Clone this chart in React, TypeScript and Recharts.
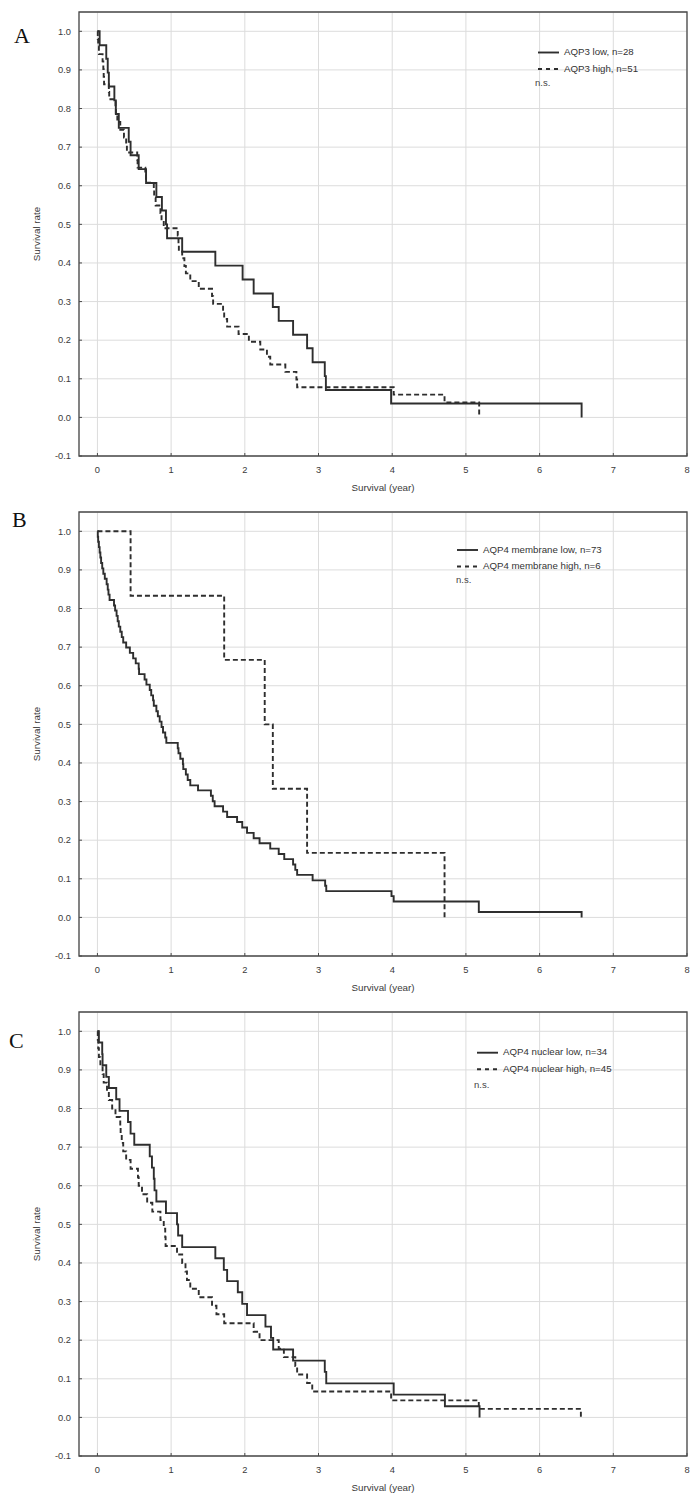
import React from "react";
import { LineChart, Line, XAxis, YAxis, CartesianGrid, ReferenceArea } from "recharts";

type Pt = { t: number; s: number };
const pts = (rows: number[][]): Pt[] => rows.map(([t, s]) => ({ t, s }));

const xTicks = [0, 1, 2, 3, 4, 5, 6, 7, 8];
const yTicks = [-0.1, 0, 0.1, 0.2, 0.3, 0.4, 0.5, 0.6, 0.7, 0.8, 0.9, 1.0];
const xDomain: [number, number] = [-0.25, 8];
const yDomain: [number, number] = [-0.1, 1.05];

// A: AQP3
const aqp3Low = pts([
  [0, 1], [0.03, 0.964], [0.12, 0.929], [0.14, 0.893], [0.155, 0.857], [0.23, 0.821],
  [0.25, 0.786], [0.29, 0.75], [0.425, 0.714], [0.45, 0.679], [0.56, 0.643], [0.66, 0.607],
  [0.8, 0.571], [0.875, 0.536], [0.93, 0.5], [0.945, 0.464], [1.15, 0.429], [1.6, 0.393],
  [1.97, 0.357], [2.12, 0.321], [2.38, 0.286], [2.46, 0.25], [2.655, 0.214], [2.845, 0.179],
  [2.92, 0.143], [3.085, 0.107], [3.1, 0.071], [3.985, 0.036], [6.57, 0],
]);
const aqp3High = pts([
  [0, 1], [0.005, 0.98], [0.01, 0.961], [0.02, 0.941], [0.07, 0.922], [0.08, 0.902],
  [0.085, 0.882], [0.09, 0.863], [0.155, 0.843], [0.16, 0.824], [0.245, 0.804], [0.25, 0.784],
  [0.27, 0.765], [0.31, 0.745], [0.36, 0.725], [0.39, 0.706], [0.4, 0.686], [0.54, 0.667],
  [0.545, 0.647], [0.65, 0.627], [0.66, 0.608], [0.765, 0.588], [0.77, 0.569], [0.79, 0.549],
  [0.855, 0.529], [0.87, 0.51], [0.9, 0.49], [1.09, 0.471], [1.1, 0.451], [1.105, 0.431],
  [1.15, 0.412], [1.18, 0.392], [1.2, 0.373], [1.26, 0.353], [1.375, 0.333], [1.555, 0.314],
  [1.57, 0.294], [1.705, 0.275], [1.72, 0.255], [1.76, 0.235], [1.915, 0.216], [2.055, 0.196],
  [2.21, 0.176], [2.3, 0.157], [2.345, 0.137], [2.55, 0.118], [2.7, 0.098], [2.71, 0.078],
  [4.02, 0.059], [4.71, 0.039], [5.18, 0],
]);

// B: AQP4 membrane
const memLow = pts([
  [0, 1], [0.005, 0.986], [0.01, 0.973], [0.02, 0.959], [0.03, 0.945], [0.04, 0.932],
  [0.05, 0.918], [0.065, 0.904], [0.08, 0.89], [0.1, 0.877], [0.125, 0.863], [0.14, 0.849],
  [0.15, 0.836], [0.165, 0.822], [0.225, 0.808], [0.24, 0.795], [0.26, 0.781], [0.275, 0.767],
  [0.29, 0.753], [0.31, 0.74], [0.33, 0.726], [0.35, 0.712], [0.39, 0.699], [0.44, 0.685],
  [0.485, 0.671], [0.52, 0.658], [0.56, 0.644], [0.565, 0.63], [0.64, 0.616], [0.665, 0.603],
  [0.71, 0.589], [0.73, 0.575], [0.755, 0.562], [0.765, 0.548], [0.8, 0.534], [0.82, 0.521],
  [0.845, 0.507], [0.87, 0.493], [0.89, 0.479], [0.92, 0.466], [0.935, 0.452], [1.09, 0.438],
  [1.1, 0.425], [1.125, 0.411], [1.16, 0.397], [1.165, 0.384], [1.2, 0.37], [1.225, 0.356],
  [1.26, 0.342], [1.365, 0.329], [1.54, 0.315], [1.565, 0.301], [1.59, 0.288], [1.705, 0.274],
  [1.76, 0.26], [1.895, 0.247], [1.965, 0.233], [2.03, 0.219], [2.12, 0.205], [2.2, 0.192],
  [2.345, 0.178], [2.46, 0.164], [2.535, 0.151], [2.655, 0.137], [2.685, 0.123], [2.71, 0.11],
  [2.92, 0.096], [3.09, 0.082], [3.105, 0.068], [3.99, 0.055], [4.02, 0.041], [5.175, 0.014],
  [6.57, 0],
]);
const memHigh = pts([
  [0, 1], [0.45, 0.833], [1.72, 0.667], [2.27, 0.5], [2.38, 0.333], [2.845, 0.167], [4.71, 0],
]);

// C: AQP4 nuclear
const nucLow = pts([
  [0, 1], [0.02, 0.971], [0.065, 0.941], [0.07, 0.912], [0.12, 0.882], [0.155, 0.853],
  [0.255, 0.824], [0.3, 0.794], [0.415, 0.765], [0.45, 0.735], [0.5, 0.706], [0.71, 0.676],
  [0.74, 0.647], [0.765, 0.618], [0.775, 0.588], [0.8, 0.559], [0.93, 0.529], [1.08, 0.5],
  [1.095, 0.471], [1.15, 0.441], [1.6, 0.412], [1.715, 0.382], [1.76, 0.353], [1.905, 0.324],
  [1.965, 0.294], [2.03, 0.265], [2.28, 0.235], [2.355, 0.206], [2.385, 0.176], [2.655, 0.147],
  [3.085, 0.118], [3.105, 0.088], [4.02, 0.059], [4.715, 0.029], [5.185, 0],
]);
const nucHigh = pts([
  [0, 1], [0.005, 0.978], [0.01, 0.956], [0.02, 0.933], [0.04, 0.911], [0.07, 0.889],
  [0.085, 0.867], [0.13, 0.844], [0.155, 0.822], [0.2, 0.8], [0.245, 0.778], [0.31, 0.756],
  [0.315, 0.733], [0.33, 0.711], [0.35, 0.689], [0.39, 0.667], [0.45, 0.644], [0.55, 0.622],
  [0.56, 0.6], [0.605, 0.578], [0.675, 0.556], [0.745, 0.533], [0.855, 0.511], [0.9, 0.489],
  [0.92, 0.467], [0.925, 0.444], [1.08, 0.422], [1.15, 0.4], [1.195, 0.378], [1.215, 0.356],
  [1.26, 0.333], [1.375, 0.311], [1.555, 0.289], [1.615, 0.267], [1.72, 0.244], [2.12, 0.222],
  [2.2, 0.2], [2.46, 0.178], [2.53, 0.156], [2.685, 0.133], [2.71, 0.111], [2.845, 0.089],
  [2.915, 0.067], [3.985, 0.044], [5.175, 0.022], [6.56, 0],
]);

const panels = [
  {
    letter: "A", letterX: 14, letterY: 43,
    low: aqp3Low, high: aqp3High,
    lowLabel: "AQP3 low, n=28", highLabel: "AQP3 high, n=51",
    legX: 538, legY: 52.5, nsX: 535, nsY: 82,
  },
  {
    letter: "B", letterX: 12, letterY: 27,
    low: memLow, high: memHigh,
    lowLabel: "AQP4 membrane low, n=73", highLabel: "AQP4 membrane high, n=6",
    legX: 457, legY: 50, nsX: 456, nsY: 79,
  },
  {
    letter: "C", letterX: 9, letterY: 48,
    low: nucLow, high: nucHigh,
    lowLabel: "AQP4 nuclear low, n=34", highLabel: "AQP4 nuclear high, n=45",
    legX: 477, legY: 52.7, nsX: 474, nsY: 84,
  },
];

const FONT = "'Liberation Sans', Arial, sans-serif";
const INK = "#2e2e2e";
const FRAME = "#4a4a4a";
const tickStyle = { fontSize: 9.3, fill: "#3a3a3a", fontFamily: FONT };

function Panel({ p }: { p: (typeof panels)[number] }) {
  return (
    <div style={{ position: "relative", width: 700, height: 500 }}>
      <LineChart width={700} height={500} margin={{ top: 12, right: 13, bottom: 0, left: 0 }}>
        <CartesianGrid stroke="#dcdcdc" strokeWidth={1} />
        <XAxis
          type="number" dataKey="t" domain={xDomain} ticks={xTicks} allowDataOverflow
          height={44} axisLine={false} tickLine={{ stroke: FRAME }} tick={tickStyle}
          tickSize={-3} tickMargin={13}
        />
        <XAxis
          xAxisId="top" orientation="top" type="number" domain={xDomain} ticks={xTicks}
          allowDataOverflow height={0} axisLine={false} tickLine={{ stroke: FRAME }}
          tick={false} tickSize={-3}
        />
        <YAxis
          type="number" domain={yDomain} ticks={yTicks} allowDataOverflow width={79}
          axisLine={false} tickLine={{ stroke: FRAME }} tick={tickStyle}
          tickSize={-3} tickMargin={11} tickFormatter={(v: number) => v.toFixed(1)}
        />
        <YAxis
          yAxisId="right" orientation="right" type="number" domain={yDomain} ticks={yTicks}
          allowDataOverflow width={0} axisLine={false} tickLine={{ stroke: FRAME }}
          tick={false} tickSize={-3}
        />
        <ReferenceArea
          x1={xDomain[0]} x2={xDomain[1]} y1={yDomain[0]} y2={yDomain[1]}
          fill="none" fillOpacity={0} stroke={FRAME} strokeWidth={1.3} ifOverflow="visible"
        />
        <Line
          data={p.low} dataKey="s" type="stepAfter" stroke={INK} strokeWidth={1.9}
          dot={false} activeDot={false} isAnimationActive={false}
        />
        <Line
          data={p.high} dataKey="s" type="stepAfter" stroke={INK} strokeWidth={1.9}
          strokeDasharray="5 3" dot={false} activeDot={false} isAnimationActive={false}
        />
      </LineChart>
      <svg width={700} height={500} style={{ position: "absolute", left: 0, top: 0, pointerEvents: "none" }}>
        <text x={p.letterX} y={p.letterY} fontFamily="'Liberation Serif', 'Times New Roman', serif" fontSize={22} fill="#111">
          {p.letter}
        </text>
        <text x={383} y={487} textAnchor="middle" dominantBaseline="central" fontFamily={FONT} fontSize={9.8} fill="#3a3a3a">
          Survival (year)
        </text>
        <text
          x={36} y={234} textAnchor="middle" dominantBaseline="central" fontFamily={FONT}
          fontSize={9.8} fill="#3a3a3a" transform="rotate(-90 36 234)"
        >
          Survival rate
        </text>
        <line x1={p.legX} x2={p.legX + 21} y1={p.legY} y2={p.legY} stroke={INK} strokeWidth={1.9} />
        <text x={p.legX + 26} y={p.legY - 1} dominantBaseline="central" fontFamily={FONT} fontSize={9.7} fill="#333">
          {p.lowLabel}
        </text>
        <line
          x1={p.legX} x2={p.legX + 22} y1={p.legY + 16.5} y2={p.legY + 16.5}
          stroke={INK} strokeWidth={1.9} strokeDasharray="4 4"
        />
        <text x={p.legX + 26} y={p.legY + 15.5} dominantBaseline="central" fontFamily={FONT} fontSize={9.7} fill="#333">
          {p.highLabel}
        </text>
        <text x={p.nsX} y={p.nsY} dominantBaseline="central" fontFamily={FONT} fontSize={9.5} fill="#444">
          n.s.
        </text>
      </svg>
    </div>
  );
}

export default function App() {
  return (
    <div style={{ position: "absolute", left: 0, top: 0, width: 700, height: 1502, background: "#fff" }}>
      {panels.map((p) => (
        <Panel key={p.letter} p={p} />
      ))}
    </div>
  );
}
